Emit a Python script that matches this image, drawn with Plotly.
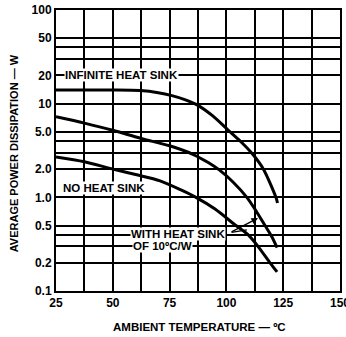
import math
import plotly.graph_objects as go

# Data
temp_infinite = [25, 50, 62, 70, 76, 82, 87.5, 94, 100.5, 106.5, 111.5, 116.3, 121.8, 122.5]
power_infinite = [14.0, 14.0, 13.8, 13.1, 12.2, 11.0, 9.6, 7.4, 5.3, 3.9, 2.9, 2.0, 1.0, 0.87]

temp_heatsink = [25, 37.5, 50, 62.5, 75, 85, 92, 97, 103, 109, 113, 117, 120, 122.3]
power_heatsink = [7.25, 6.2, 5.2, 4.25, 3.55, 2.9, 2.35, 1.95, 1.45, 1.0, 0.72, 0.5, 0.38, 0.29]

temp_noheatsink = [25, 37.5, 50, 60, 70.8, 80, 86.6, 95, 104.2, 109.5, 113.9, 119.2, 122.3]
power_noheatsink = [2.7, 2.4, 2.0, 1.75, 1.5, 1.2, 1.0, 0.75, 0.5, 0.4, 0.3, 0.2, 0.16]

x_grid = [25, 37.5, 50, 62.5, 75, 87.5, 100, 112.5, 125, 137.5, 150]
x_labels = ["25", "", "50", "", "75", "", "100", "", "125", "", "150"]
y_grid = [0.1, 0.2, 0.3, 0.4, 0.5, 1, 2, 3, 4, 5, 10, 20, 30, 40, 50, 100]
y_labels = ["0.1", "0.2", "", "", "0.5", "1.0", "2.0", "", "", "5.0", "10", "20", "", "", "50", "100"]

FONT = "Liberation Sans, Arial, Helvetica, sans-serif"
lg = math.log10

fig = go.Figure()
for tx, py in [(temp_infinite, power_infinite), (temp_heatsink, power_heatsink),
               (temp_noheatsink, power_noheatsink)]:
    fig.add_trace(go.Scatter(x=tx, y=py, mode="lines",
                             line=dict(color="black", width=3, shape="spline", smoothing=0.8),
                             showlegend=False, hoverinfo="skip"))

annots = [
    dict(x=54, y=lg(20), text="INFINITE HEAT SINK", xanchor="center", yanchor="middle"),
    dict(x=46, y=lg(1.26), text="NO HEAT SINK", xanchor="center", yanchor="middle"),
    dict(x=57.6, y=lg(0.405), text="WITH HEAT SINK", xanchor="left", yanchor="middle"),
    dict(x=58.4, y=lg(0.30), text="OF 10ºC/W", xanchor="left", yanchor="middle"),
]
ann_list = []
for a in annots:
    ann_list.append(dict(xref="x", yref="y", showarrow=False, bgcolor="white",
                         borderpad=0,
                         font=dict(family=FONT, size=11.5, color="black", weight="bold"), **a))
# leader lines
ann_list.append(dict(xref="x", yref="y", axref="x", ayref="y", x=113.9, y=lg(0.60),
                     ax=101.6, ay=lg(0.42), text="", showarrow=True, arrowhead=2,
                     arrowsize=1, arrowwidth=1.3, arrowcolor="black"))
ann_list.append(dict(xref="x", yref="y", axref="x", ayref="y", x=109.0, y=lg(0.45),
                     ax=101.6, ay=lg(0.42), text="", showarrow=True, arrowhead=0,
                     arrowwidth=1.3, arrowcolor="black"))
# y-axis title
ann_list.append(dict(xref="paper", yref="paper", x=(14 - 56) / 284, y=0.49,
                     text="AVERAGE POWER DISSIPATION — W", textangle=-90, showarrow=False,
                     xanchor="center", yanchor="middle",
                     font=dict(family=FONT, size=11, color="black", weight="bold")))
# x-axis title
ann_list.append(dict(xref="paper", yref="paper", x=0.505, y=-(327 - 291) / 281,
                     text="AMBIENT TEMPERATURE — ºC", showarrow=False,
                     xanchor="center", yanchor="middle",
                     font=dict(family=FONT, size=11.5, color="black", weight="bold")))

fig.update_layout(
    width=346, height=337,
    margin=dict(l=56, r=6, t=10, b=46, autoexpand=False),
    paper_bgcolor="white", plot_bgcolor="white",
    annotations=ann_list,
    xaxis=dict(range=[25, 150], tickvals=x_grid, ticktext=x_labels, showgrid=True,
               gridcolor="black", gridwidth=1.5, zeroline=False, showline=True,
               linecolor="black", linewidth=2, mirror=True, ticks="",
               tickfont=dict(family=FONT, size=12, color="black", weight="bold"),
               ticklabeloverflow="allow", automargin=False),
    yaxis=dict(type="log", range=[-1, 2], tickvals=y_grid, ticktext=y_labels, showgrid=True,
               gridcolor="black", gridwidth=1.5, zeroline=False, showline=True,
               linecolor="black", linewidth=2, mirror=True, ticks="",
               tickfont=dict(family=FONT, size=12, color="black", weight="bold"),
               ticklabeloverflow="allow", automargin=False),
)

fig.write_html("out.html",
               config={"displayModeBar": False},
               post_script="document.body.style.margin='0';document.body.style.overflow='hidden';")
